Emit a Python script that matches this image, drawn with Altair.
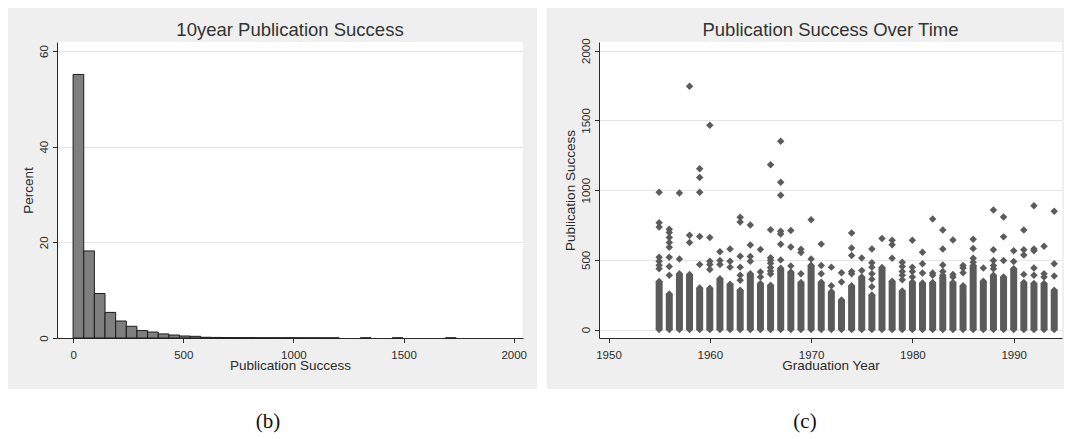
import altair as alt
import pandas as pd

# ---------------- data ----------------
# (b) histogram: bins of equal width starting at 0, height in percent
hist_bin_width = 48.3
hist_percent = [55.1, 18.2, 9.3, 5.35, 3.55, 2.45, 1.55, 1.25, 0.85, 0.62, 0.42, 0.35,
                0.15, 0.12, 0.10, 0.08, 0.08, 0.06, 0.06, 0.05, 0.05, 0.04, 0.04, 0.03,
                0.03, 0.0, 0.0, 0.03, 0.0, 0.0, 0.03, 0.0, 0.0, 0.0, 0.0, 0.03]
hist_x_ticks = [0, 500, 1000, 1500, 2000]
hist_y_ticks = [0, 20, 40, 60]

# (c) scatter: per graduation year a dense column from 0 to column_top,
# plus the individual points above it
grad_years = [1955, 1956, 1957, 1958, 1959, 1960, 1961, 1962, 1963, 1964,
              1965, 1966, 1967, 1968, 1969, 1970, 1971, 1972, 1973, 1974,
              1975, 1976, 1977, 1978, 1979, 1980, 1981, 1982, 1983, 1984,
              1985, 1986, 1987, 1988, 1989, 1990, 1991, 1992, 1993, 1994]
column_top = [345, 255, 400, 395, 299, 296, 365, 325, 283, 400,
              330, 318, 440, 413, 337, 462, 340, 271, 212, 314,
              377, 248, 445, 347, 276, 342, 335, 337, 377, 337,
              314, 460, 347, 389, 377, 436, 337, 330, 330, 283]
upper_points = [
    [985, 766, 735, 519, 490, 462, 436],
    [719, 696, 660, 625, 590, 519, 453, 389],
    [980, 507],
    [1745, 677, 625],
    [1154, 1090, 985, 667, 467],
    [1465, 660, 490, 467, 431],
    [559, 495, 467],
    [578, 490, 448],
    [805, 771, 526, 448, 389, 354],
    [750, 607, 524, 490],
    [575, 413, 377],
    [1183, 716, 516, 498, 475, 445, 420, 398],
    [1350, 1056, 963, 705, 686, 612, 500],
    [710, 592, 457],
    [577, 553, 401],
    [787, 507],
    [613, 460, 401],
    [448, 314],
    [408, 342],
    [693, 585, 531, 417, 401],
    [514, 424],
    [578, 479, 448, 401, 361, 307],
    [653],
    [641, 608, 512],
    [483, 453, 417, 389, 358],
    [641, 448, 417, 377],
    [554, 472, 406],
    [793, 406, 389],
    [714, 578, 464, 417, 389],
    [643, 396, 377],
    [460, 441, 408],
    [648, 582, 512, 483],
    [441],
    [857, 573, 495, 460, 436],
    [808, 665, 495],
    [566, 488],
    [714, 573, 535, 396],
    [888, 578, 566, 441, 389],
    [597, 401, 377],
    [848, 472, 384],
]
scatter_x_ticks = [1950, 1960, 1970, 1980, 1990]
scatter_y_ticks = [0, 500, 1000, 1500, 2000]

# ---------------- tables ----------------
hist_df = pd.DataFrame({"percent": hist_percent})
hist_df["start"] = [i * hist_bin_width for i in range(len(hist_percent))]
hist_df["end"] = hist_df["start"] + hist_bin_width
hist_df["zero"] = 0.0
hist_df = hist_df[hist_df["percent"] > 0]

col_df = pd.DataFrame({"year": grad_years, "top": column_top})
col_df["bottom"] = 0
pt_rows = []
for yr, top, ups in zip(grad_years, column_top, upper_points):
    for v in ups + [top, 0]:
        pt_rows.append({"year": yr, "value": v})
pt_df = pd.DataFrame(pt_rows)

# ---------------- style ----------------
BG = "#efefef"
INK = "#2a2a2a"
DOT = "#5b5b5b"
FONT = "Liberation Sans"
W1, W2, H = 466, 463, 296


def x_axis(values, title, w):
    return alt.Axis(values=values, title=title, format="d", grid=False,
                    domainColor=INK, domainWidth=1, tickColor=INK, tickSize=4.5,
                    labelAngle=0, labelAlign="center", labelBaseline="top",
                    labelPadding=7.3, labelFont=FONT, labelFontSize=11.5,
                    labelColor=INK, labelFlush=False, labelOverlap=False,
                    titleFont=FONT, titleFontSize=13.5, titleFontWeight="normal",
                    titleColor=INK, titleBaseline="alphabetic", titleAlign="center",
                    titleX=w / 2, titleY=31.5)


def y_axis(values, title):
    return alt.Axis(values=values, title=title, format="d", grid=True,
                    gridColor="#e4e4e4", gridWidth=1,
                    domainColor=INK, domainWidth=1, tickColor=INK, tickSize=4.5,
                    labelAngle=270, labelAlign="center", labelBaseline="alphabetic",
                    labelPadding=5.5, labelFont=FONT, labelFontSize=11.5,
                    labelColor=INK, labelFlush=False, labelOverlap=False,
                    titleFont=FONT, titleFontSize=13.5, titleFontWeight="normal",
                    titleColor=INK, titleAngle=270, titleAlign="center",
                    titleBaseline="alphabetic", titleX=-24.5, titleY=H / 2)


def box(x1, x2, y1, y2, color):
    return alt.Chart(alt.Data(values=[{"k": 0}])).mark_rect(
        fill=color, strokeWidth=0).encode(
        x=alt.value(x1), x2=alt.value(x2), y=alt.value(y1), y2=alt.value(y2))


def label(x, y, txt, font, size, color):
    return alt.Chart(alt.Data(values=[{"k": 0}])).mark_text(
        font=font, fontSize=size, color=color,
        align="center", baseline="alphabetic").encode(
        x=alt.value(x), y=alt.value(y), text=alt.value(txt))


# ---------------- (b) histogram ----------------
bars = alt.Chart(hist_df).mark_rect(fill="#7f7f7f", stroke="#1c1c1c", strokeWidth=1).encode(
    x=alt.X("start:Q", scale=alt.Scale(domain=[-73.1, 2042.2], nice=False, zero=False),
            axis=x_axis(hist_x_ticks, "Publication Success", W1)),
    x2="end:Q",
    y=alt.Y("percent:Q", scale=alt.Scale(domain=[0, 61.88], nice=False),
            axis=y_axis(hist_y_ticks, "Percent")),
    y2="zero:Q",
)

left = alt.layer(
    box(480, 490, -34, 348, "white"),
    box(-49, 490, 347, 393, "white"),
    bars,
    label(W1 / 2, -6.5, "10year Publication Success", FONT, 18.5, "#333333"),
    label(211, 386, "(b)", "Liberation Serif", 21, "#111111"),
).properties(width=W1, height=H)

# ---------------- (c) scatter ----------------
xs = alt.Scale(domain=[1949.062, 1994.768], nice=False, zero=False)
ys = alt.Scale(domain=[-60.2, 2062.4], nice=False, zero=False)

columns = alt.Chart(col_df).mark_rule(color=DOT, strokeWidth=7).encode(
    x=alt.X("year:Q", scale=xs, axis=x_axis(scatter_x_ticks, "Graduation Year", W2)),
    y=alt.Y("bottom:Q", scale=ys, axis=y_axis(scatter_y_ticks, "Publication Success")),
    y2="top:Q",
)
points = alt.Chart(pt_df).mark_point(shape="diamond", filled=True, size=56,
                                     color=DOT, opacity=1).encode(
    x=alt.X("year:Q", scale=xs),
    y=alt.Y("value:Q", scale=ys),
)

right = alt.layer(
    box(-52, 465, 347, 393, "white"),
    box(464, 465, -34, -33, BG),
    columns,
    points,
    label(W2 / 2, -6.5, "Publication Success Over Time", FONT, 18.5, "#333333"),
    label(206, 386, "(c)", "Liberation Serif", 21, "#111111"),
).properties(width=W2, height=H)

chart = alt.hconcat(left, right, spacing=0).properties(
    padding=0, background=BG
).configure_view(fill="white", strokeWidth=0)

chart.save("out.html", embed_options={"renderer": "svg", "actions": False})
